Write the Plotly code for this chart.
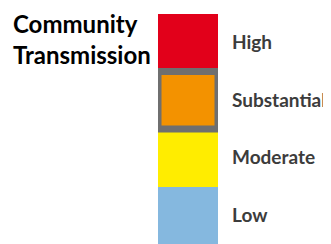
import plotly.graph_objects as go

categories = ["High", "Substantial", "Moderate", "Low"]
values = [1, 1, 1, 1]
colors = ["#E2001A", "#F39200", "#FFED00", "#85B8DF"]
highlight = "Substantial"
title_lines = ["Community", "Transmission"]

fig = go.Figure()
fig.add_trace(go.Bar(
    y=categories, x=values, orientation="h", width=1,
    marker=dict(color=colors, line=dict(width=0)),
    hoverinfo="skip", showlegend=False,
))

hi = categories.index(highlight)
fig.add_shape(type="rect", xref="x", yref="y",
              x0=0, x1=1, y0=hi - 0.5, y1=hi + 0.5,
              line=dict(color="#6F6F6F", width=7), fillcolor="rgba(0,0,0,0)",
              layer="above")

# plot area in window: x 158..218 px, y 14..244 px (page body has 8px offset)
def px_x(px):
    return (px - 158) / 60.0

def px_y(py):
    return 1 - (py - 14) / 230.0

for line, cy in zip(title_lines, [24, 55]):
    fig.add_annotation(text=line, xref="paper", yref="paper",
                       x=px_x(11), y=px_y(cy), xanchor="left", yanchor="middle",
                       showarrow=False,
                       font=dict(family="Lato", size=24, color="#000000", weight=700))

fig.update_layout(
    width=331, height=244,
    margin=dict(l=150, r=121, t=6, b=8, autoexpand=False),
    paper_bgcolor="white", plot_bgcolor="white",
    bargap=0,
    xaxis=dict(range=[0, 1], visible=False, fixedrange=True, automargin=False),
    yaxis=dict(categoryorder="array", categoryarray=categories,
               range=[3.5, -0.5], side="right", showgrid=False, zeroline=False,
               showline=False, ticks="", ticklabelstandoff=13, automargin=False,
               tickfont=dict(family="Lato", size=19, color="#3C3C3C", weight=700),
               fixedrange=True),
)

fig.write_html("out.html")
